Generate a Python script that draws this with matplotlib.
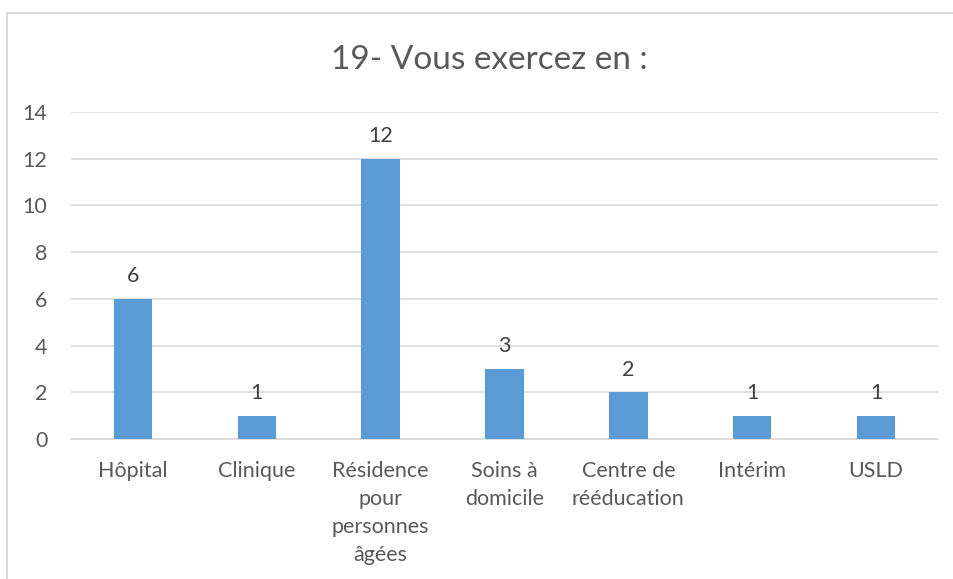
import matplotlib
matplotlib.use("agg")
import matplotlib.pyplot as plt
from matplotlib.patches import Rectangle

categories = ["Hôpital", "Clinique", "Résidence\npour\npersonnes\nâgées",
              "Soins à\ndomicile", "Centre de\nrééducation", "Intérim", "USLD"]
values = [6, 1, 12, 3, 2, 1, 1]
yticks = [0, 2, 4, 6, 8, 10, 12, 14]

plt.rcParams["font.family"] = ["Lato", "DejaVu Sans"]
text_color = "#595959"
grid_color = "#D9D9D9"

fig = plt.figure(figsize=(9.54, 5.79), dpi=100)
ax = fig.add_axes([71/954, 1 - 439/579, 867/954, 327/579])

x = list(range(len(categories)))
ax.bar(x, values, width=0.31, color="#5B9BD5", zorder=3)
for xi, v in zip(x, values):
    ax.annotate(str(v), (xi, v), xytext=(0, 9), textcoords="offset points",
                ha="center", va="bottom", fontsize=15.5, color="#404040")

ax.set_xlim(-0.5, len(categories) - 0.5)
ax.set_ylim(0, 14)
ax.set_yticks(yticks)
ax.set_xticks(x)
ax.set_xticklabels(categories, linespacing=1.5, va="top")
ax.tick_params(axis="both", length=0, labelsize=15.5, labelcolor=text_color)
ax.tick_params(axis="y", pad=17)
ax.tick_params(axis="x", pad=16)
ax.grid(axis="y", color=grid_color, lw=1.2, zorder=0)
for s in ["top", "right", "left"]:
    ax.spines[s].set_visible(False)
ax.spines["bottom"].set_color(grid_color)
ax.spines["bottom"].set_linewidth(1.2)

fig.text(489/954, 1 - 60/579, "19- Vous exercez en :", ha="center", va="center",
         fontsize=24, color=text_color)

fig.patches.append(Rectangle((7/954, -0.05), 1.0, 1 - 13/579 + 0.05,
                             transform=fig.transFigure, fill=False,
                             edgecolor=grid_color, lw=1.5))

fig.savefig("out.png", dpi=100)
